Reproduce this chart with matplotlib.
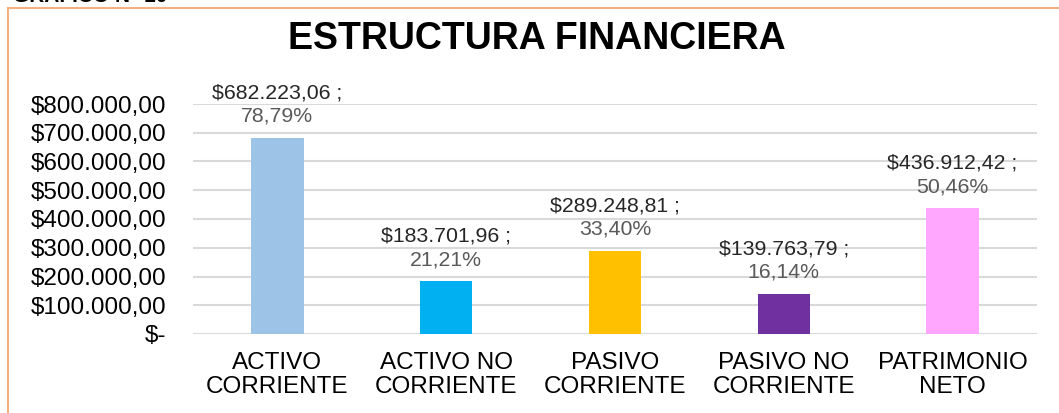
import numpy as np
import matplotlib.pyplot as plt
from matplotlib.patches import Rectangle
from matplotlib.ticker import FuncFormatter

plt.rcParams['font.family'] = ['Liberation Sans', 'DejaVu Sans']

# data
categories = ['ACTIVO\nCORRIENTE', 'ACTIVO NO\nCORRIENTE', 'PASIVO\nCORRIENTE',
              'PASIVO NO\nCORRIENTE', 'PATRIMONIO\nNETO']
values = [682223.06, 183701.96, 289248.81, 139763.79, 436912.42]
shares = ['78,79%', '21,21%', '33,40%', '16,14%', '50,46%']
colors = ['#9DC3E6', '#00B0F0', '#FFC000', '#7030A0', '#FFA6FF']


def money(v):
    s = '{:,.2f}'.format(v)
    return '$' + s.replace(',', 'X').replace('.', ',').replace('X', '.')


def tick_fmt(v, pos):
    if v == 0:
        return '$-'
    return money(v)


fig = plt.figure(figsize=(10.59, 4.13), dpi=100)
ax = fig.add_axes([193 / 1059, 1 - 334 / 413, (1037 - 193) / 1059, 230 / 413])

x = np.arange(len(categories))
ax.bar(x, values, width=0.31, color=colors, zorder=3)

for xi, v, sh in zip(x, values, shares):
    ax.annotate(money(v) + ' ;', (xi, v), xytext=(0, 28.5), textcoords='offset points',
                ha='center', va='baseline', fontsize=15.3, color='#262626', annotation_clip=False)
    ax.annotate(sh, (xi, v), xytext=(0, 11.5), textcoords='offset points',
                ha='center', va='baseline', fontsize=15.3, color='#595959', annotation_clip=False)

ax.set_xlim(-0.5, len(categories) - 0.5)
ax.set_ylim(0, 800000)
ax.set_yticks(np.arange(0, 800001, 100000))
ax.yaxis.set_major_formatter(FuncFormatter(tick_fmt))
ax.set_xticks(x)
ax.set_xticklabels(categories, fontsize=17.5, linespacing=1.12)
ax.tick_params(axis='y', length=0, pad=19, labelsize=17.5, labelcolor='black')
ax.tick_params(axis='x', length=0, pad=13, labelcolor='black')
ax.grid(axis='y', color='#D9D9D9', linewidth=1.5, zorder=0)
for s in ax.spines.values():
    s.set_visible(False)

fig.text(537 / 1059, 1 - 39 / 413, 'ESTRUCTURA FINANCIERA', ha='center', va='center',
         fontsize=27, fontweight='bold')

# header above the chart, mostly cut off in the original
fig.text(13 / 1059, 1 - 2.5 / 413, 'GRÁFICO N° 10', ha='left', va='baseline',
         fontsize=15, fontweight='bold')

# orange frame of the chart box
fig.patches.append(Rectangle((8 / 1059, -0.1), 1.2, 1 - 8 / 413 + 0.1, transform=fig.transFigure,
                             fill=False, edgecolor='#F4B183', linewidth=1.5))

fig.savefig('out.png', dpi=100)
